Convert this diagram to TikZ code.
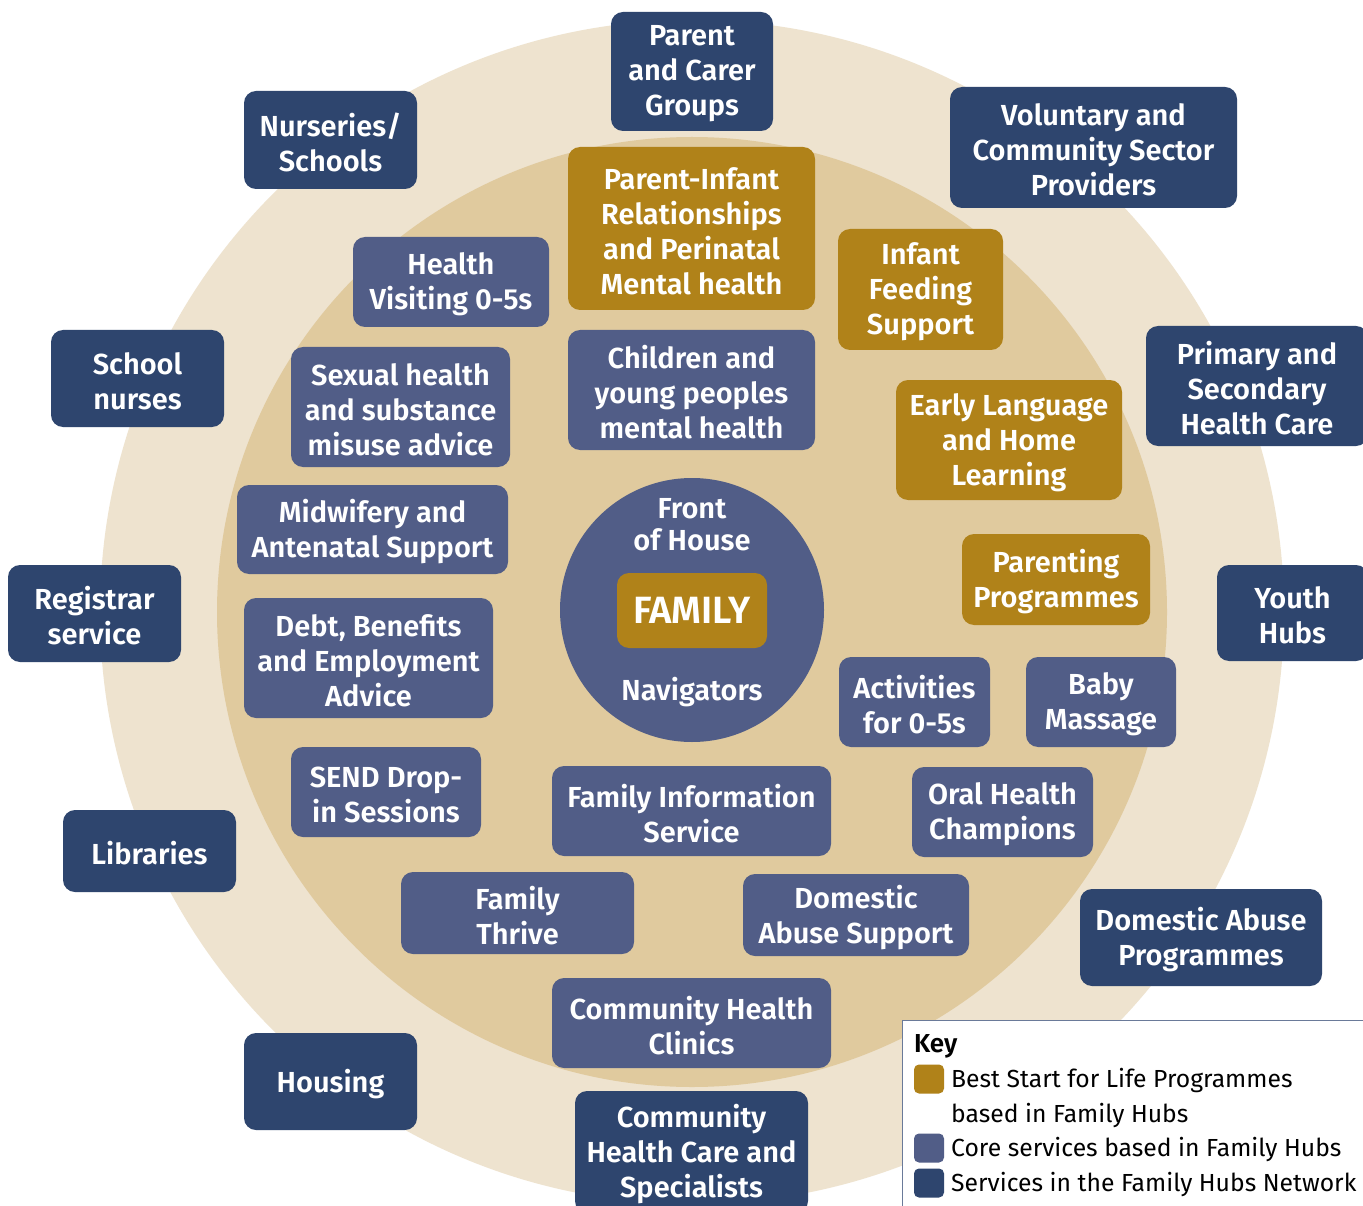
\documentclass[tikz,border=0pt]{standalone}
\usepackage{fontspec}
\setmainfont{Fira Sans}[BoldFont={Fira Sans SemiBold}]
\definecolor{ringout}{HTML}{EEE3CF}
\definecolor{ringin}{HTML}{E0CA9E}
\definecolor{navy}{HTML}{2E456E}
\definecolor{core}{HTML}{515D87}
\definecolor{gold}{HTML}{B08219}
\definecolor{keyline}{HTML}{6A7A99}
\tikzset{
  base/.style={rounded corners=12pt, inner sep=0pt},
  label/.style={text=white, align=center, inner sep=0pt, font=\bfseries\fontsize{29}{35}\selectfont},
  netbox/.style={base, fill=navy},
  corebox/.style={base, fill=core},
  bestbox/.style={base, fill=gold},
  keysq/.style={rounded corners=5pt, minimum width=30pt, minimum height=29pt, inner sep=0pt},
  keytext/.style={anchor=west, inner sep=0pt, font=\fontsize{24.7}{35}\selectfont, text=black, align=left}
}
\newcommand{\bx}[7]{\node[#2, minimum width={(#5-#3)*1pt}, minimum height={(#6-#4)*1pt}] (#1) at ({(#3+#5)/2},{(#4+#6)/2}) {};
  \node[label] (#1-t) at ([yshift=-2.5pt]#1.center) {#7};}
\begin{document}
\begin{tikzpicture}[x=1pt,y=-1pt]
\useasboundingbox (0,0) rectangle (1363,1206);
\clip (0,0) rectangle (1363,1206);
\fill[white] (0,0) rectangle (1363,1206);
\fill[ringout] (692,612) circle (592);
\fill[ringin] (692,612) circle (475);
% outer network
\bx{pcg}{netbox}{611}{12}{773}{131}{Parent\\and Carer\\Groups}
\bx{nur}{netbox}{244}{91}{417}{189}{Nurseries/\\Schools}
\bx{vol}{netbox}{950}{87}{1237}{208}{Voluntary and\\Community Sector\\Providers}
\bx{sn}{netbox}{51}{330}{224}{427}{School\\nurses}
\bx{psh}{netbox}{1146}{326}{1368}{446}{Primary and\\Secondary\\Health Care}
\bx{reg}{netbox}{8}{565}{181}{662}{Registrar\\service}
\bx{yh}{netbox}{1217}{565}{1368}{661}{Youth\\Hubs}
\bx{lib}{netbox}{63}{810}{236}{892}{Libraries}
\bx{dap}{netbox}{1080}{889}{1322}{986}{Domestic Abuse\\Programmes}
\bx{hou}{netbox}{244}{1033}{417}{1130}{Housing}
\bx{chcs}{netbox}{575}{1091}{808}{1213}{Community\\Health Care and\\Specialists}
% best start
\bx{pir}{bestbox}{568}{147}{815}{310}{Parent-Infant\\Relationships\\and Perinatal\\Mental health}
\bx{ifs}{bestbox}{838}{229}{1003}{350}{Infant\\Feeding\\Support}
\bx{elh}{bestbox}{896}{380}{1122}{500}{Early Language\\and Home\\Learning}
\bx{pp}{bestbox}{962}{534}{1150}{625}{Parenting\\Programmes}
% core
\bx{hv}{corebox}{353}{237}{549}{327}{Health\\Visiting 0-5s}
\bx{cyp}{corebox}{568}{330}{815}{450}{Children and\\young peoples\\mental health}
\bx{sh}{corebox}{291}{347}{510}{467}{Sexual health\\and substance\\misuse advice}
\bx{mid}{corebox}{237}{485}{508}{574}{Midwifery and\\Antenatal Support}
\bx{debt}{corebox}{244}{598}{493}{718}{Debt, Benefits\\and Employment\\Advice}
\bx{act}{corebox}{839}{657}{990}{747}{Activities\\for 0-5s}
\bx{bm}{corebox}{1026}{657}{1176}{747}{Baby\\Massage}
\bx{send}{corebox}{291}{747}{481}{837}{SEND Drop-\\in Sessions}
\bx{fis}{corebox}{552}{766}{831}{856}{Family Information\\Service}
\bx{ohc}{corebox}{912}{767}{1093}{857}{Oral Health\\Champions}
\bx{ft}{corebox}{401}{872}{634}{954}{Family\\Thrive}
\bx{das}{corebox}{743}{874}{969}{956}{Domestic\\Abuse Support}
\bx{chc}{corebox}{552}{978}{831}{1068}{Community Health\\Clinics}
% centre
\node[circle, fill=core, minimum size=264pt, inner sep=0pt] (hub) at (692,610) {};
\node[label, font=\bfseries\fontsize{29}{32}\selectfont] (foh) at (692,525) {Front\\of House};
\node[label] (nav) at (692,692) {Navigators};
\node[bestbox, minimum width=150pt, minimum height=75pt] (fam) at (692,610.5) {};
\node[label, font=\bfseries\fontsize{38}{40}\selectfont] (fam-t) at (fam.center) {FAMILY};
% key
\node[draw=keyline, line width=1.2pt, fill=white, minimum width=480pt, minimum height=200pt, inner sep=0pt, anchor=north west] (keybox) at (902,1020) {};
\node[anchor=west, inner sep=0pt, font=\bfseries\fontsize{26}{35}\selectfont] (keyt) at (914,1046) {Key};
\node[keysq, fill=gold] (k1) at (929,1079) {};
\node[keysq, fill=core] (k2) at (929,1148) {};
\node[keysq, fill=navy] (k3) at (929,1183) {};
\node[keytext] (t1) at (951,1080) {Best Start for Life Programmes};
\node[keytext] (t1b) at (951,1115) {based in Family Hubs};
\node[keytext] (t2) at (951,1149) {Core services based in Family Hubs};
\node[keytext] (t3) at (951,1184) {Services in the Family Hubs Network};
\end{tikzpicture}
\end{document}
